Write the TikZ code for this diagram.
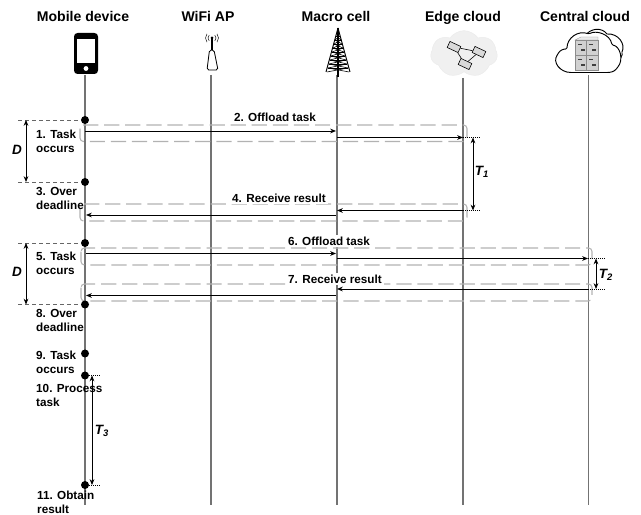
\documentclass[tikz,border=0pt]{standalone}
\usepackage{fontspec}
\setmainfont{Liberation Sans}
\usetikzlibrary{arrows.meta,positioning,shapes.symbols}

\begin{document}
\begin{tikzpicture}[x=0.03cm, y=-0.03cm,
	head/.style={font=\fontsize{12}{14}\selectfont\bfseries, anchor=base},
	lab/.style={font=\fontsize{10}{12}\selectfont\bfseries, align=left, anchor=north west, inner sep=0pt},
	msg/.style={font=\fontsize{10}{12}\selectfont\bfseries, fill=white, inner sep=1.5pt},
	sym/.style={font=\fontsize{11.5}{13}\selectfont\bfseries\itshape, inner sep=0pt},
	life/.style={draw=black!55, line width=0.9pt},
	arr/.style={-{Stealth[length=5pt,width=4pt]}, line width=0.75pt},
	spanarr/.style={{Stealth[length=5pt,width=4pt]}-{Stealth[length=5pt,width=4pt]}, line width=0.7pt},
	dot/.style={circle, fill=black, minimum size=0.24cm, inner sep=0pt},
	grp/.style={draw=black!30, line width=0.9pt, rounded corners=3pt, dash pattern=on 13pt off 5pt},
	tickline/.style={draw=black!60, dashed, line width=0.5pt},
	dotline/.style={draw=black, densely dotted, line width=0.7pt}
]
	\useasboundingbox (0,0) rectangle (641,515);

	% Headers
	\node[head] (hmob) at (83,22) {Mobile device};
	\node[head] (hap)  at (208,22) {WiFi AP};
	\node[head] (hmac) at (336,22) {Macro cell};
	\node[head] (hedg) at (463,22) {Edge cloud};
	\node[head] (hcen) at (585,22) {Central cloud};

	% Lifelines
	\coordinate (mob) at (85,75);   \coordinate (mobe) at (85,505);
	\coordinate (ap)  at (211,75);  \coordinate (ape)  at (211,505);
	\coordinate (mac) at (337,75);  \coordinate (mace) at (337,505);
	\coordinate (edg) at (463,78);  \coordinate (edge) at (463,505);
	\coordinate (cen) at (588.5,75); \coordinate (cene) at (588.5,505);
	\draw[life] (mob) -- (mobe);
	\draw[life] (ap) -- (ape);
	\draw[life] (mac) -- (mace);
	\draw[life] (edg) -- (edge);
	\draw[life, line width=0.6pt] (cen) -- (cene);

	% Mobile device icon
	\fill[black, rounded corners=3pt] (74,33) rectangle (98,74);
	\fill[white] (77,39) rectangle (95,63);
	\fill[white] (86,68.5) circle (2.4);

	% WiFi AP icon
	\draw[line width=0.7pt, fill=white, rounded corners=1.5pt] (209.5,50) -- (214,50) -- (218,70) -- (207,70) -- cycle;
	\draw[line width=0.9pt] (212,38) -- (212,50);
	\fill (212,38) circle (1.5);
	\draw[line width=0.4pt] (212,38) ++(135:4) arc (135:225:4);
	\draw[line width=0.4pt] (212,38) ++(-45:4) arc (-45:45:4);
	\draw[line width=0.4pt] (212,38) ++(140:6.5) arc (140:220:6.5);
	\draw[line width=0.4pt] (212,38) ++(-40:6.5) arc (-40:40:6.5);

	% Macro cell icon
	\draw[line width=0.8pt] (338,28) -- (326,72);
	\draw[line width=0.8pt] (338,28) -- (350,72);
	\draw[line width=0.9pt] (338,28) -- (338,77);
	\foreach \yy/\dx in {36/2,40/3,44/4,48/5,52/6,56/7,60/8,64/9,68/10} {
		\draw[line width=0.5pt] (338-\dx,\yy) -- (338+\dx,\yy);
		\draw[line width=0.5pt] (338-\dx,\yy) -- (338+\dx+1,\yy+4);
		\draw[line width=0.5pt] (338+\dx,\yy) -- (338-\dx-1,\yy+4);
	}

	% Edge cloud icon
	\node[cloud, cloud puffs=7, cloud puff arc=110, fill=black!6, draw=black!8, aspect=1.4,
		minimum width=2cm, minimum height=1.4cm, inner sep=0pt] (ecl) at (464,54) {};
	\foreach \cx/\cy/\cn in {454/47/ed1, 479/52/ed2, 465/64/ed3} {
		\node[draw, fill=black!15, line width=0.5pt, minimum width=0.36cm, minimum height=0.2cm,
			inner sep=0pt, rotate=-25] (\cn) at (\cx,\cy) {};
	}
	\draw[line width=0.5pt] (ed1) -- (ed2);
	\draw[line width=0.5pt] (ed2) -- (ed3);
	\draw[line width=0.5pt] (ed1) -- (ed3);

	% Central cloud icon
	\draw[line width=0.8pt, fill=white] (585,36) .. controls (590,28) and (602,27) .. (607,34)
		.. controls (618,33) and (626,44) .. (622,52) .. controls (623,56) and (620,60) .. (616,60) -- (590,50) -- cycle;
	\draw[line width=0.8pt, fill=white, rounded corners=1pt] (572,72.5)
		.. controls (560,72.5) and (552,62) .. (558,54)
		.. controls (560,50) and (564,49) .. (567,49)
		.. controls (567,38) and (578,30) .. (589,34)
		.. controls (596,30) and (610,34) .. (612,45)
		.. controls (620,46) and (624,60) .. (617,68)
		.. controls (614,72) and (610,72.5) .. (606,72.5) -- cycle;
	\foreach \sx/\sy in {575/40, 586/40, 575/55, 586/55} {
		\fill[black!18, draw=black!45, line width=0.3pt] (\sx,\sy) rectangle ++(12,15);
		\fill[black!75] (\sx+3,\sy+4) rectangle ++(4,1.5);
		\fill[black!75] (\sx+6,\sy+9) rectangle ++(4,2);
	}
	\fill[black!8, draw=black!40, line width=0.3pt] (575,40) -- (581,37) -- (598,37) -- (598,40) -- cycle;

	% Request and result groups
	\draw[grp] (80,125) rectangle (467,141.5);
	\draw[grp] (80,204) rectangle (467,221);
	\draw[grp] (81,248) rectangle (592,265);
	\draw[grp] (81,284) rectangle (592,301);

	% Deadline ticks
	\coordinate (d1l) at (18,120);  \coordinate (d2l) at (18,182);
	\coordinate (d3l) at (18,243);  \coordinate (d4l) at (18,304.5);
	\coordinate (d1a) at (26,120);  \coordinate (d2a) at (26,182);
	\coordinate (d3a) at (26,243);  \coordinate (d4a) at (26,304.5);

	% Events on the mobile device
	\node[dot] (e1) at (85,120) {};
	\node[dot] (e3) at (85,182) {};
	\node[dot] (e5) at (85,243) {};
	\node[dot] (e8) at (85,304.5) {};
	\node[dot] (e9) at (85,353.5) {};
	\node[dot] (e10) at (85,375.5) {};
	\node[dot] (e11) at (85,485) {};

	\draw[tickline] (d1l) -- (e1);
	\draw[tickline] (d2l) -- (e3);
	\draw[tickline] (d3l) -- (e5);
	\draw[tickline] (d4l) -- (e8);
	\draw[spanarr] (d1a) -- (d2a);
	\draw[spanarr] (d3a) -- (d4a);
	\node[sym] (dd1) at (17,150) {D};
	\node[sym] (dd2) at (17,272) {D};

	% Messages
	\coordinate (a1) at (85,131);    \coordinate (a2) at (336,131);
	\coordinate (a3) at (337,137.5); \coordinate (a4) at (463,137.5);
	\coordinate (b1) at (463,210.5); \coordinate (b2) at (337,210.5);
	\coordinate (b3) at (336,215);   \coordinate (b4) at (86,215);
	\coordinate (c1) at (86,253.5);  \coordinate (c2) at (336,253.5);
	\coordinate (c3) at (337,258.5); \coordinate (c4) at (588,258.5);
	\coordinate (f1) at (588,289);   \coordinate (f2) at (337,289);
	\coordinate (f3) at (336,295.5); \coordinate (f4) at (86,295.5);
	\draw[arr] (a1) -- (a2);
	\draw[arr] (a3) -- (a4);
	\draw[arr] (b1) -- (b2);
	\draw[arr] (b3) -- (b4);
	\draw[arr] (c1) -- (c2);
	\draw[arr] (c3) -- (c4);
	\draw[arr] (f1) -- (f2);
	\draw[arr] (f3) -- (f4);

	\node[msg] (m2) at (275,117.5) {2. Offload task};
	\node[msg] (m4) at (279,198) {4. Receive result};
	\node[msg] (m6) at (329,241) {6. Offload task};
	\node[msg] (m7) at (335,279) {7. Receive result};

	% Processing times
	\coordinate (t1a) at (473,137.5); \coordinate (t1b) at (473,210.5);
	\coordinate (t1c) at (480,137.5); \coordinate (t1d) at (480,210.5);
	\coordinate (t2a) at (596,258.5); \coordinate (t2b) at (596,289);
	\coordinate (t2c) at (605,258.5); \coordinate (t2d) at (605,289);
	\coordinate (t3a) at (92,375.5);  \coordinate (t3b) at (92,485);
	\coordinate (t3c) at (101,375.5); \coordinate (t3d) at (101,485);
	\draw[dotline] (a4) -- (t1c);
	\draw[dotline] (b1) -- (t1d);
	\draw[dotline] (c4) -- (t2c);
	\draw[dotline] (f1) -- (t2d);
	\draw[dotline] (e10) -- (t3c);
	\draw[dotline] (e11) -- (t3d);
	\draw[spanarr] (t1a) -- (t1b);
	\draw[spanarr] (t2a) -- (t2b);
	\draw[spanarr] (t3a) -- (t3b);
	\node[sym] (tt1) at (482,172) {T\textsubscript{1}};
	\node[sym] (tt2) at (606,275) {T\textsubscript{2}};
	\node[sym] (tt3) at (102,431) {T\textsubscript{3}};

	% Event labels
	\node[lab] (l1) at (36,130) {1. Task\\occurs};
	\node[lab] (l3) at (36,187) {3. Over\\deadline};
	\node[lab] (l5) at (36,252) {5. Task\\occurs};
	\node[lab] (l8) at (36,309) {8. Over\\deadline};
	\node[lab] (l9) at (36,351) {9. Task\\occurs};
	\node[lab] (l10) at (36,384) {10. Process\\task};
	\node[lab] (l11) at (37,491) {11. Obtain\\result};
\end{tikzpicture}
\end{document}
